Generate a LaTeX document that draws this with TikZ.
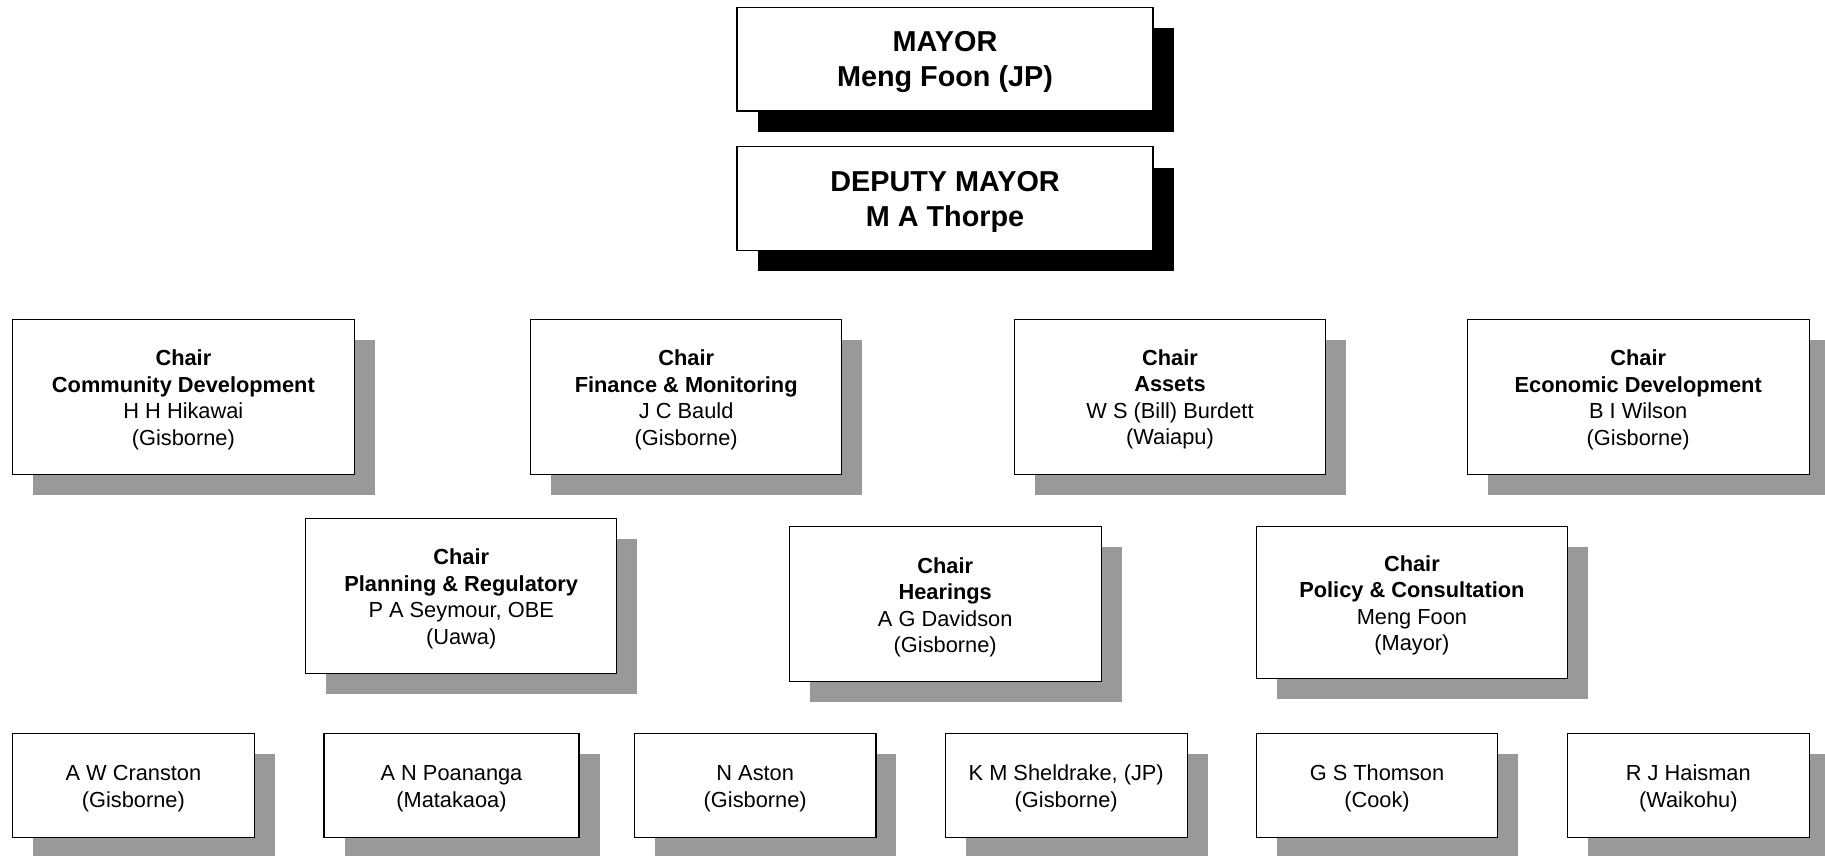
\documentclass[tikz,border=0pt]{standalone}
\usepackage{fontspec}
\setmainfont{Liberation Sans}
\usetikzlibrary{shadows}
\definecolor{shgray}{RGB}{153,153,153}
\newcommand{\upa}{\rule{0pt}{21.6pt}}
\newcommand{\upb}{\rule{0pt}{26.4pt}}
\tikzset{
  box/.style={draw=black, line width=1.1pt, fill=white, inner sep=0pt, align=center,
    font=\fontsize{21.8}{26.5}\selectfont,
    drop shadow={shadow xshift=20.5pt, shadow yshift=-20.5pt, fill=shgray, opacity=1}},
  bigbox/.style={draw=black, line width=1.1pt, fill=white, inner sep=0pt, align=center,
    font=\fontsize{28.8}{35}\selectfont\bfseries,
    minimum width=416pt, minimum height=103.5pt,
    drop shadow={shadow xshift=21pt, shadow yshift=-21pt, fill=black, opacity=1}},
  chair/.style={box, minimum height=154.7pt},
  member/.style={box, minimum height=104pt}
}
\begin{document}
\begin{tikzpicture}[x=1pt, y=-1pt]
\useasboundingbox (0,0) rectangle (1825,855);
\node[bigbox] (mayor) at (945,59.2) {\upb MAYOR\\Meng Foon (JP)};
\node[bigbox] (deputy) at (945,198.5) {\upb DEPUTY MAYOR\\M A Thorpe};

\node[chair, minimum width=341.3pt] (cd) at (183.4,396.7) {\upa\textbf{Chair}\\\textbf{Community Development}\\H H Hikawai\\(Gisborne)};
\node[chair, minimum width=311pt] (fm) at (686.2,396.7) {\upa\textbf{Chair}\\\textbf{Finance \& Monitoring}\\J C Bauld\\(Gisborne)};
\node[chair, minimum width=311.4pt] (as) at (1170,396.7) {\upa\textbf{Chair}\\\textbf{Assets}\\W S (Bill) Burdett\\(Waiapu)};
\node[chair, minimum width=341.7pt] (ed) at (1638.2,396.7) {\upa\textbf{Chair}\\\textbf{Economic Development}\\B I Wilson\\(Gisborne)};

\node[chair, minimum width=311pt, minimum height=155pt] (pr) at (461.2,595.8) {\upa\textbf{Chair}\\\textbf{Planning \& Regulatory}\\P A Seymour, OBE\\(Uawa)};
\node[chair, minimum width=311.7pt, minimum height=155pt] (he) at (945.2,604.2) {\upa\textbf{Chair}\\\textbf{Hearings}\\A G Davidson\\(Gisborne)};
\node[chair, minimum width=311.7pt, minimum height=152pt] (pc) at (1411.9,602.5) {\upa\textbf{Chair}\\\textbf{Policy \& Consultation}\\Meng Foon\\(Mayor)};

\node[member, minimum width=241.3pt] (cr) at (133.4,785.3) {\upa A W Cranston\\(Gisborne)};
\node[member, minimum width=255pt] (po) at (451.5,785.3) {\upa A N Poananga\\(Matakaoa)};
\node[member, minimum width=241.5pt] (at) at (755.2,785.3) {\upa N Aston\\(Gisborne)};
\node[member, minimum width=241.7pt] (sh) at (1066.2,785.3) {\upa K M Sheldrake, (JP)\\(Gisborne)};
\node[member, minimum width=241pt] (th) at (1377,785.3) {\upa G S Thomson\\(Cook)};
\node[member, minimum width=242pt] (ha) at (1688.3,785.3) {\upa R J Haisman\\(Waikohu)};
\end{tikzpicture}
\end{document}
